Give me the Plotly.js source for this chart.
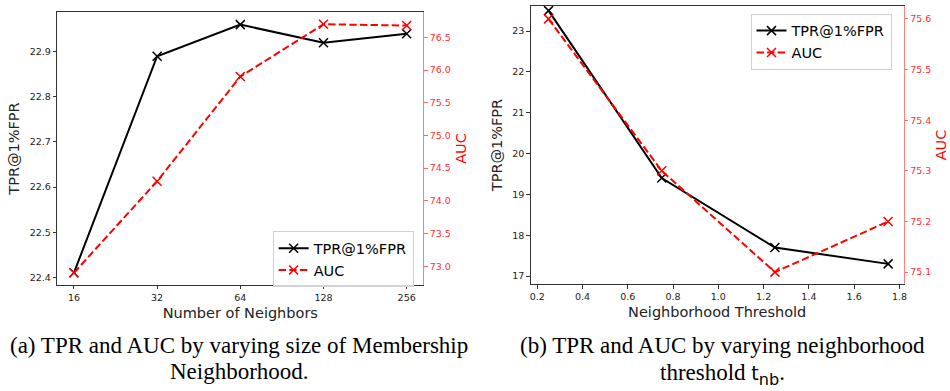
<!DOCTYPE html>
<html><head><meta charset="utf-8">
<script src="https://cdn.plot.ly/plotly-3.0.1.min.js"></script>
<style>body{margin:0;background:#fff}#c{width:950px;height:391px}</style>
</head><body><div id="c"></div>
<script>
const neighbors = [16, 32, 64, 128, 256];
const tprA = [22.41, 22.89, 22.96, 22.92, 22.94];
const aucA = [72.90, 74.30, 75.90, 76.70, 76.68];
const thresholds = [0.25, 0.75, 1.25, 1.75];
const tprB = [23.5, 19.4, 17.7, 17.3];
const aucB = [75.6, 75.3, 75.1, 75.2];
const seriesNames = ['TPR@1%FPR', 'AUC'];

const F = 'DejaVu Sans, sans-serif';
const SERIF = 'Liberation Serif, Times New Roman, serif';
const red = '#ff0000';
const lineStyle = (c, d) => ({color: c, width: 2, dash: d});
const mk = c => ({symbol: 'x-thin', size: 9, line: {color: c, width: 1.5}, color: c});
const DASH = '7.4px,3.2px';

const traces = [
  {x: neighbors, y: tprA, xaxis: 'x', yaxis: 'y', name: seriesNames[0], mode: 'lines+markers', line: lineStyle('#000', 'solid'), marker: mk('#000'), legend: 'legend'},
  {x: neighbors, y: aucA, xaxis: 'x', yaxis: 'y2', name: seriesNames[1], mode: 'lines+markers', line: lineStyle(red, DASH), marker: mk(red), legend: 'legend'},
  {x: thresholds, y: tprB, xaxis: 'x2', yaxis: 'y3', name: seriesNames[0], mode: 'lines+markers', line: lineStyle('#000', 'solid'), marker: mk('#000'), legend: 'legend2'},
  {x: thresholds, y: aucB, xaxis: 'x2', yaxis: 'y4', name: seriesNames[1], mode: 'lines+markers', line: lineStyle(red, DASH), marker: mk(red), legend: 'legend2'}
];

const tickF = {family: F, size: 9.5, color: '#222'};
const tickR = {family: F, size: 9.5, color: '#ff3030'};
const titleF = {family: F, size: 14.5, color: '#222'};
const titleR = {family: F, size: 14.5, color: red};
const base = {showgrid: false, zeroline: false, showline: true, linecolor: '#333', linewidth: 1, ticks: 'outside', ticklen: 3.5, tickwidth: 1, tickcolor: '#333', automargin: false};

const log2 = Math.log10(2);
const legendBase = {xanchor: 'left', yanchor: 'top', bgcolor: 'rgba(255,255,255,0.8)',
  bordercolor: '#d0d0d0', borderwidth: 1, font: {family: F, size: 14.5, color: '#000'}, tracegroupgap: 0, itemwidth: 30};
const capFont = {family: SERIF, size: 23, color: '#000'};
const cap = (text, x, yPix) => ({text: text, xref: 'paper', yref: 'paper', x: x, y: 1 - yPix / 391,
  xanchor: 'center', yanchor: 'bottom', borderpad: 0, showarrow: false, font: capFont});

const layout = {
  width: 950, height: 391,
  margin: {l: 0, r: 0, t: 0, b: 0},
  paper_bgcolor: '#fff', plot_bgcolor: '#fff',
  showlegend: true,
  xaxis: Object.assign({}, base, {domain: [0.0603, 0.4456], anchor: 'y', type: 'log',
    range: [3.8 * log2, 8.2 * log2], tickvals: neighbors, ticktext: neighbors.map(String),
    tickfont: tickF, mirror: true, title: {text: 'Number of Neighbors', font: titleF, standoff: 5}}),
  yaxis: Object.assign({}, base, {domain: [0.2711, 0.9693], anchor: 'x', range: [22.383, 22.988],
    dtick: 0.1, tickformat: '.1f', tickfont: tickF, title: {text: 'TPR@1%FPR', font: titleF, standoff: 6}}),
  yaxis2: Object.assign({}, base, {overlaying: 'y', side: 'right', anchor: 'x', range: [72.714, 76.887],
    dtick: 0.5, tickformat: '.1f', tickfont: tickR, linecolor: 'rgba(255,0,0,0.5)', tickcolor: 'rgba(255,0,0,0.6)',
    title: {text: 'AUC', font: titleR, standoff: 5}}),
  xaxis2: Object.assign({}, base, {domain: [0.5586, 0.9513], anchor: 'y3', range: [0.171, 1.819],
    dtick: 0.2, tickformat: '.1f', tickfont: tickF, mirror: true,
    title: {text: 'Neighborhood Threshold', font: titleF, standoff: 5}}),
  yaxis3: Object.assign({}, base, {domain: [0.2729, 0.9854], anchor: 'x2', range: [16.80, 23.62],
    dtick: 1, tickfont: tickF, title: {text: 'TPR@1%FPR', font: titleF, standoff: 6}}),
  yaxis4: Object.assign({}, base, {overlaying: 'y3', side: 'right', anchor: 'x2', range: [75.076, 75.626],
    dtick: 0.1, tickformat: '.1f', tickfont: tickR, linecolor: 'rgba(255,0,0,0.5)', tickcolor: 'rgba(255,0,0,0.6)',
    title: {text: 'AUC', font: titleR, standoff: 5}}),
  legend: Object.assign({}, legendBase, {x: 0.287, y: 0.4084}),
  legend2: Object.assign({}, legendBase, {x: 0.790, y: 0.965}),
  annotations: [
    cap('(a) TPR and AUC by varying size of Membership', 0.252, 359),
    cap('Neighborhood.', 0.252, 385),
    cap('(b) TPR and AUC by varying neighborhood', 0.760, 359),
    cap('threshold <span style="font-family:DejaVu Sans;font-size:19px">t</span><sub><span style="font-family:DejaVu Sans">nb</span></sub>.', 0.760, 390)
  ]
};

Plotly.newPlot('c', traces, layout, {displayModeBar: false, staticPlot: true});
</script></body></html>
